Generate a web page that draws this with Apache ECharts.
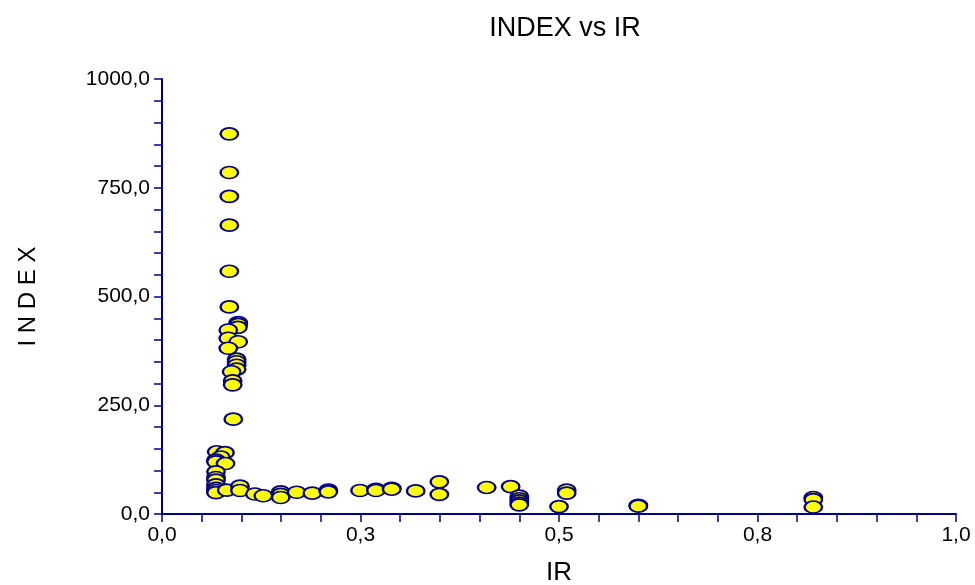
<!DOCTYPE html>
<html>
<head>
<meta charset="utf-8">
<script src="https://cdn.jsdelivr.net/npm/echarts@6/dist/echarts.min.js"></script>
<style>html,body{margin:0;padding:0;background:#fff}#chart{width:975px;height:585px}</style>
</head>
<body>
<div id="chart"></div>
<script>
const chartTitle = 'INDEX vs IR';
const xAxisName = 'IR';
const yAxisName = 'I N D E X';
const xTickValues = [0, 0.25, 0.5, 0.75, 1];
const xTickLabels = ['0,0', '0,3', '0,5', '0,8', '1,0'];
const yTickValues = [0, 250, 500, 750, 1000];
const yTickLabels = ['0,0', '250,0', '500,0', '750,0', '1000,0'];

const irValues = [
  0.0848, 0.0848, 0.0848, 0.0848, 0.0848, 0.0848,
  0.0960, 0.0960, 0.0955, 0.0835, 0.0835, 0.0960, 0.0835,
  0.0940, 0.0940, 0.0940, 0.0940, 0.0877, 0.0890, 0.0890, 0.0898,
  0.0689, 0.0793, 0.0740, 0.0680, 0.0680, 0.0800, 0.0680, 0.0680, 0.0680,
  0.0680, 0.0680, 0.0680, 0.0680, 0.0815, 0.0982, 0.0982, 0.1170, 0.1276,
  0.1495, 0.1495, 0.1495, 0.1696, 0.1893, 0.2095, 0.2095, 0.2494,
  0.2695, 0.2695, 0.2893, 0.2893, 0.3195, 0.3493, 0.3493, 0.4089, 0.4391,
  0.4500, 0.4500, 0.4500, 0.4500, 0.4500, 0.5000, 0.5097, 0.5097,
  0.5999, 0.5999, 0.8203, 0.8203, 0.8203
];
const indexValues = [
  874, 785, 730, 664, 558, 476,
  440, 436, 429, 423, 404, 396, 381,
  356, 350, 342, 333, 327, 306, 297, 218,
  143, 141, 131, 124, 120, 116, 97, 84, 78,
  67, 59, 54, 49, 55, 64, 54, 46, 42,
  51, 45, 38, 50, 48, 55, 51, 54,
  57, 54, 59, 57, 53, 74, 45, 61, 63,
  41, 35, 30, 25, 21, 17, 55, 48,
  20, 18, 38, 33, 16
];

const points = irValues.map((x, i) => [x, indexValues[i]]);
const axisColor = '#000080';
const font = 'Liberation Sans, Arial, sans-serif';

function labelFor(values, labels) {
  return function (v) {
    for (let i = 0; i < values.length; i++) {
      if (Math.abs(values[i] - v) < 1e-9) return labels[i];
    }
    return '';
  };
}

const chart = echarts.init(document.getElementById('chart'), null, {renderer: 'canvas'});
chart.setOption({
  animation: false,
  backgroundColor: '#ffffff',
  title: {
    text: chartTitle,
    left: 560,
    textAlign: 'center',
    top: 10,
    textStyle: {fontFamily: font, fontSize: 27, fontWeight: 'normal', color: '#000'}
  },
  grid: {left: 162, right: 19, top: 79, bottom: 71, containLabel: false, outerBoundsMode: 'none'},
  xAxis: {
    type: 'value',
    min: 0, max: 1, interval: 0.25,
    name: xAxisName,
    nameLocation: 'middle',
    nameGap: 46,
    nameTextStyle: {fontFamily: font, fontSize: 26, color: '#000'},
    axisLine: {show: true, onZero: false, lineStyle: {color: axisColor, width: 2}},
    axisTick: {show: true, length: 8, lineStyle: {color: axisColor, width: 1.5}},
    minorTick: {show: true, splitNumber: 5, length: 8, lineStyle: {color: axisColor, width: 1.5}},
    splitLine: {show: false},
    minorSplitLine: {show: false},
    axisLabel: {
      fontFamily: font, fontSize: 21, color: '#000', margin: 11,
      formatter: labelFor(xTickValues, xTickLabels)
    }
  },
  yAxis: {
    type: 'value',
    min: 0, max: 1000, interval: 250,
    name: yAxisName,
    nameLocation: 'middle',
    nameGap: 122,
    nameTextStyle: {fontFamily: font, fontSize: 24, color: '#000'},
    axisLine: {show: true, onZero: false, lineStyle: {color: axisColor, width: 2}},
    axisTick: {show: true, length: 8, lineStyle: {color: axisColor, width: 1.5}},
    minorTick: {show: true, splitNumber: 5, length: 8, lineStyle: {color: axisColor, width: 1.5}},
    splitLine: {show: false},
    minorSplitLine: {show: false},
    axisLabel: {
      fontFamily: font, fontSize: 21, color: '#000', margin: 12,
      formatter: labelFor(yTickValues, yTickLabels)
    }
  },
  series: [{
    type: 'scatter',
    data: points,
    symbol: 'circle',
    symbolSize: [17.5, 12],
    itemStyle: {color: '#ffff00', borderColor: '#000080', borderWidth: 2, opacity: 1}
  }]
});
</script>
</body>
</html>
